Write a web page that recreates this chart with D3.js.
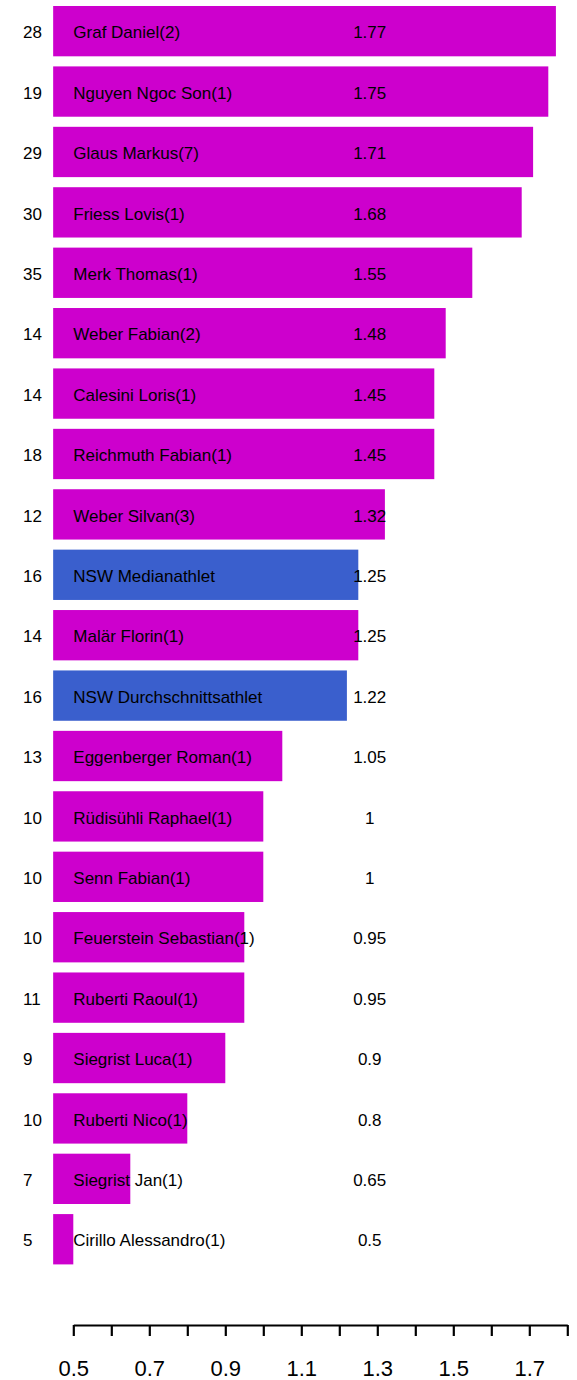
<!DOCTYPE html>
<html>
<head>
<meta charset="utf-8">
<script src="https://cdn.jsdelivr.net/npm/d3@7"></script>
<style>
  html, body { margin: 0; padding: 0; background: #fff; }
  svg { display: block; font-family: "Liberation Sans", Arial, sans-serif; }
</style>
</head>
<body>
<svg id="chart" width="577" height="1380"></svg>
<script>
// Athletes, ordered top to bottom
const names = [
  "Graf Daniel(2)", "Nguyen Ngoc Son(1)", "Glaus Markus(7)", "Friess Lovis(1)",
  "Merk Thomas(1)", "Weber Fabian(2)", "Calesini Loris(1)", "Reichmuth Fabian(1)",
  "Weber Silvan(3)", "NSW Medianathlet", "Malär Florin(1)", "NSW Durchschnittsathlet",
  "Eggenberger Roman(1)", "Rüdisühli Raphael(1)", "Senn Fabian(1)",
  "Feuerstein Sebastian(1)", "Ruberti Raoul(1)", "Siegrist Luca(1)",
  "Ruberti Nico(1)", "Siegrist Jan(1)", "Cirillo Alessandro(1)"
];
const values = [
  1.77, 1.75, 1.71, 1.68, 1.55, 1.48, 1.45, 1.45, 1.32, 1.25, 1.25, 1.22,
  1.05, 1, 1, 0.95, 0.95, 0.9, 0.8, 0.65, 0.5
];
const counts = [
  28, 19, 29, 30, 35, 14, 14, 18, 12, 16, 14, 16, 13, 10, 10, 10, 11, 9, 10, 7, 5
];
// true = reference athlete (median / average)
const isReference = [
  false, false, false, false, false, false, false, false, false, true, false, true,
  false, false, false, false, false, false, false, false, false
];
const tickValues = [0.5, 0.6, 0.7, 0.8, 0.9, 1.0, 1.1, 1.2, 1.3, 1.4, 1.5, 1.6, 1.7, 1.8];
const tickLabels = [0.5, 0.7, 0.9, 1.1, 1.3, 1.5, 1.7];

const barBase = 0.447;     // left edge of every bar
const valueColumn = 1.28;  // where the value labels are centred

const svg = d3.select("#chart");

const x = d3.scaleLinear().domain([0.5, 1.8]).range([73.3, 567.3]);
const y = d3.scaleBand()
  .domain(d3.range(names.length))
  .range([6, 1264.4])
  .paddingInner(0.167)
  .paddingOuter(0);

const rows = svg.append("g").selectAll("g")
  .data(names.map((n, i) => ({ name: n, value: values[i], count: counts[i], ref: isReference[i], i })))
  .join("g");

rows.append("rect")
  .attr("x", x(barBase))
  .attr("y", d => y(d.i))
  .attr("width", d => x(d.value) - x(barBase))
  .attr("height", y.bandwidth())
  .attr("fill", d => d.ref ? "#3A5FCD" : "#CD00CD");

const labelDy = "0.42em";

rows.append("text")
  .attr("x", 23)
  .attr("y", d => y(d.i) + y.bandwidth() / 2)
  .attr("dy", labelDy)
  .attr("font-size", 17)
  .attr("fill", "#000")
  .text(d => d.count);

rows.append("text")
  .attr("x", x(0.5))
  .attr("y", d => y(d.i) + y.bandwidth() / 2)
  .attr("dy", labelDy)
  .attr("font-size", 17)
  .attr("fill", "#000")
  .text(d => d.name);

rows.append("text")
  .attr("x", x(valueColumn))
  .attr("y", d => y(d.i) + y.bandwidth() / 2)
  .attr("dy", labelDy)
  .attr("text-anchor", "middle")
  .attr("font-size", 17)
  .attr("fill", "#000")
  .text(d => String(d.value));

// Bottom axis: line with downward ticks, labels on every other tick
const axis = d3.axisBottom(x)
  .tickValues(tickValues)
  .tickSizeInner(11)
  .tickSizeOuter(0)
  .tickFormat(d => tickLabels.some(t => Math.abs(t - d) < 1e-9) ? d3.format(".1f")(d) : "");

const gAxis = svg.append("g")
  .attr("transform", "translate(0,1325)")
  .call(axis);

gAxis.select(".domain").attr("stroke", "#000").attr("stroke-width", 2.2);
gAxis.selectAll(".tick line").attr("stroke", "#000").attr("stroke-width", 2.2);
gAxis.selectAll(".tick text")
  .attr("font-size", 22)
  .attr("font-family", "Liberation Sans, Arial, sans-serif")
  .attr("fill", "#000")
  .attr("y", 43)
  .attr("dy", "0.35em");
</script>
</body>
</html>
